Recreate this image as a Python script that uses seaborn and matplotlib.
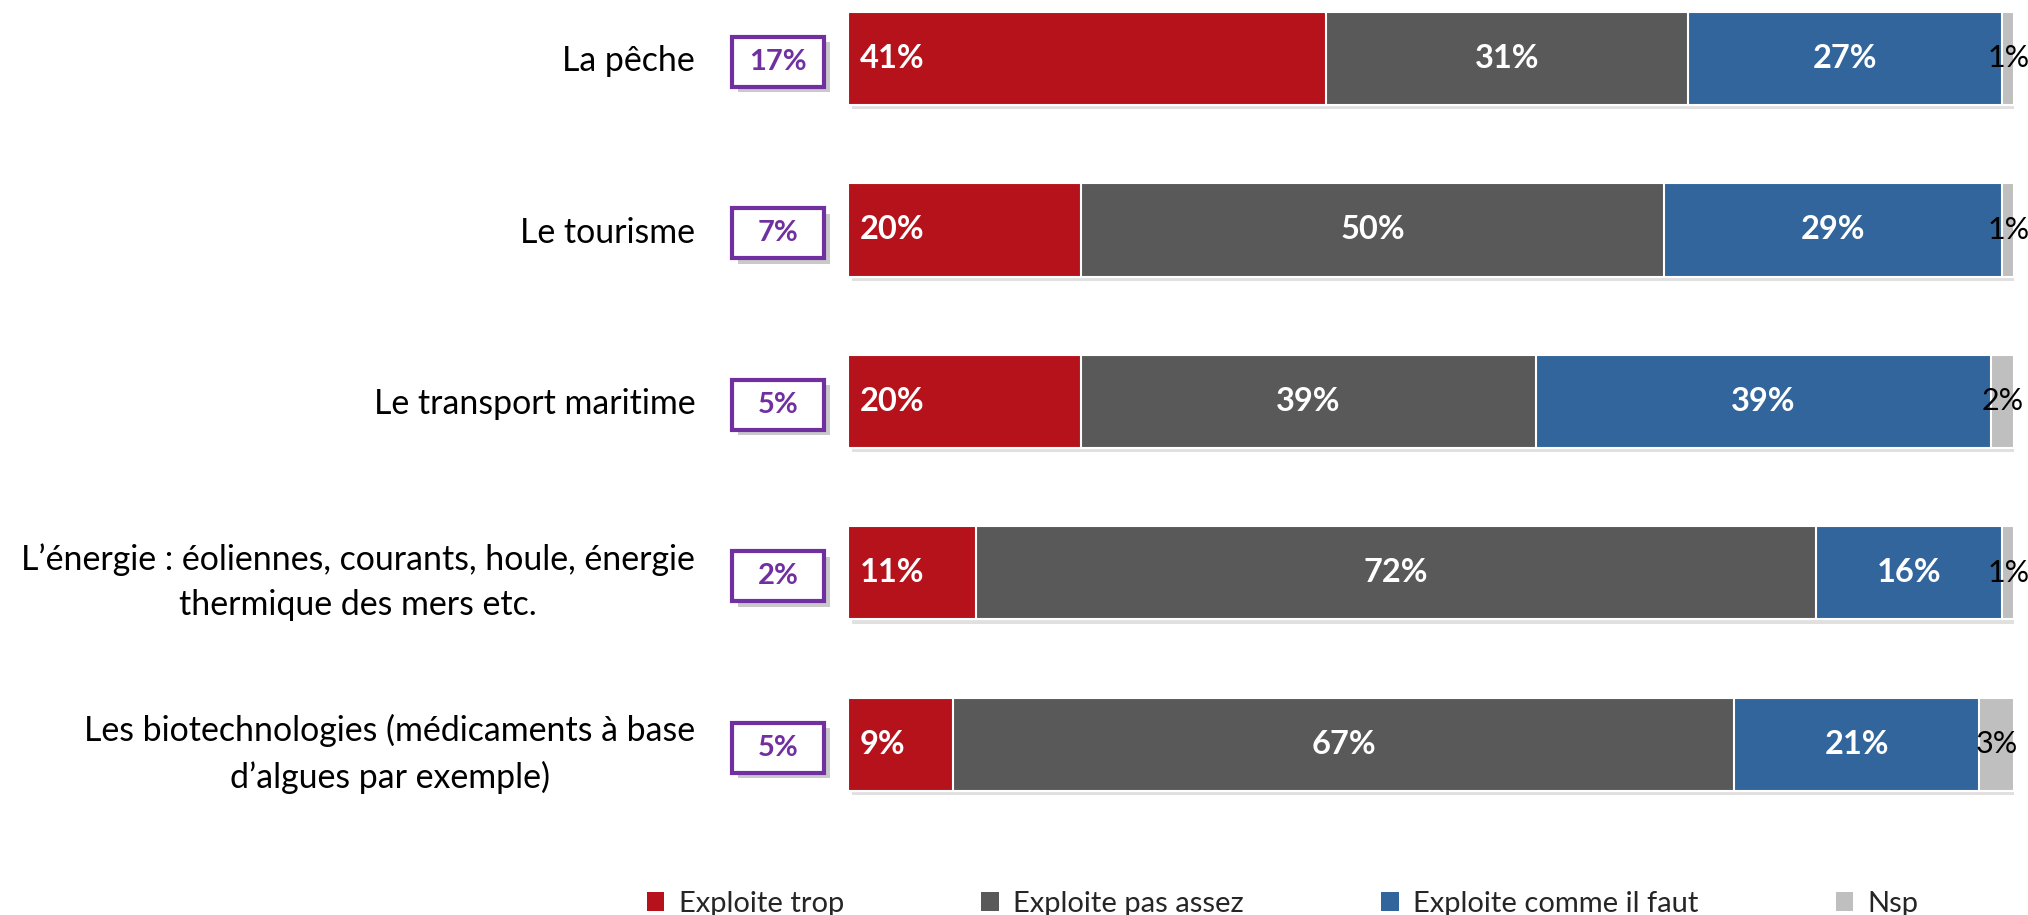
import matplotlib
matplotlib.use("Agg")
import matplotlib.pyplot as plt
import matplotlib.patheffects as pe
from matplotlib.patches import Rectangle, Patch
from matplotlib.transforms import blended_transform_factory
import seaborn as sns
import numpy as np
import pandas as pd

categories = [
    "La pêche",
    "Le tourisme",
    "Le transport maritime",
    "L\u2019énergie : éoliennes, courants, houle, énergie\nthermique des mers etc.",
    "Les biotechnologies (médicaments à base\nd\u2019algues par exemple)",
]
series_names = ["Exploite trop", "Exploite pas assez", "Exploite comme il faut", "Nsp"]
exploite_trop = [41, 20, 20, 11, 9]
exploite_pas_assez = [31, 50, 39, 72, 67]
exploite_comme_il_faut = [27, 29, 39, 16, 21]
nsp = [1, 1, 2, 1, 3]
box_values = ["17%", "7%", "5%", "2%", "5%"]

colors = ["#B5121B", "#595959", "#31659B", "#BFBFBF"]
purple = "#7030A0"

sns.set_theme(style="white")
plt.rcParams["font.family"] = ["Lato", "DejaVu Sans"]

series = [exploite_trop, exploite_pas_assez, exploite_comme_il_faut, nsp]
cum = np.cumsum(np.array(series, dtype=float), axis=0)

fig = plt.figure(figsize=(20.28, 9.15), dpi=100)
ax = fig.add_axes([848 / 2028, 1 - 830 / 915, 1166 / 2028, 830 / 915])

bar_h = 0.545
# draw from the full cumulative down so that segments stack
for i in range(3, -1, -1):
    df = pd.DataFrame({"cat": categories, "val": cum[i]})
    before = len(ax.patches)
    sns.barplot(data=df, x="val", y="cat", orient="h", color=colors[i],
                width=bar_h, ax=ax, saturation=1, edgecolor="white",
                linewidth=1.5)
    if i == 3:
        for p in ax.patches[before:]:
            p.set_path_effects([pe.SimplePatchShadow(offset=(3, -3), alpha=0.18,
                                                     shadow_rgbFace="#555555"),
                                pe.Normal()])

ax.set_xlim(0, 100)
ax.set_ylim(4.5, -0.34)
ax.set_xlabel("")
ax.set_ylabel("")
ax.set_xticks([])
for s in ax.spines.values():
    s.set_visible(False)

ax.set_yticks(range(len(categories)))
ax.set_yticklabels(categories, fontsize=24.4, color="black")
for t in ax.get_yticklabels():
    t.set_multialignment("center")
    t.set_linespacing(1.5)
ax.tick_params(axis="y", length=0, pad=110)

# value labels
for j in range(len(categories)):
    lefts = [0] + list(cum[:-1, j])
    for i in range(4):
        v = series[i][j]
        if i == 0:
            ax.text(1.0, j, f"{v}%", ha="left", va="center", color="white",
                    fontsize=23.5, fontweight="bold")
        elif i < 3:
            ax.text(lefts[i] + v / 2, j, f"{v}%", ha="center", va="center",
                    color="white", fontsize=23.5, fontweight="bold")
        else:
            ax.text(lefts[i] + v / 2, j, f"{v}%", ha="center", va="center",
                    color="black", fontsize=22)

# purple boxes
trans = blended_transform_factory(ax.transAxes, ax.transData)
bx0, bx1 = -0.0995, -0.0206
bh = 0.29
for j, lab in enumerate(box_values):
    r = Rectangle((bx0, j - bh / 2 + 0.02), bx1 - bx0, bh, transform=trans,
                  facecolor="white", edgecolor=purple, linewidth=3,
                  clip_on=False, zorder=5)
    r.set_path_effects([pe.SimplePatchShadow(offset=(4, -4), alpha=0.3), pe.Normal()])
    ax.add_patch(r)
    ax.text((bx0 + bx1) / 2, j + 0.02, lab, transform=trans, ha="center",
            va="center", color=purple, fontsize=21, fontweight="bold",
            zorder=6, clip_on=False)

handles = [Patch(facecolor=c, edgecolor="none") for c in colors]
fig.legend(handles, series_names, loc="center", bbox_to_anchor=(0.6325, 0.012),
           ncol=4, frameon=False, fontsize=21, handlelength=0.6,
           handleheight=0.6, handletextpad=0.5, columnspacing=4.7)

fig.savefig("out.png", dpi=100)
